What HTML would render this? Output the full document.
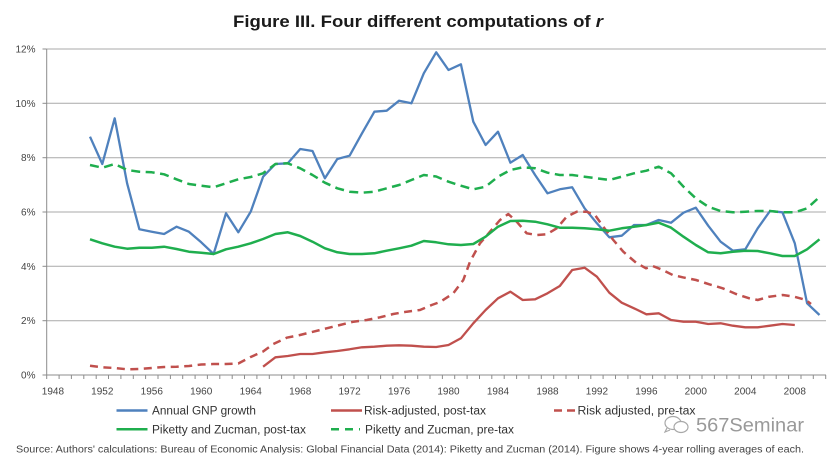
<!DOCTYPE html>
<html>
<head>
<meta charset="utf-8">
<style>
  html,body{margin:0;padding:0;background:#fff;}
  svg{display:block;}
  text{font-family:"Liberation Sans",sans-serif;}
</style>
</head>
<body>
<svg width="834" height="469" viewBox="0 0 834 469" xmlns="http://www.w3.org/2000/svg">
  <rect x="0" y="0" width="834" height="469" fill="#ffffff"/>

  <!-- Title -->
  <text x="418" y="27" text-anchor="middle" font-size="17" font-weight="bold" fill="#1a1a1a" textLength="370" lengthAdjust="spacingAndGlyphs">Figure III.  Four different computations of <tspan font-style="italic">r</tspan></text>

  <!-- Gridlines -->
  <g stroke="#a9a9a9" stroke-width="1">
    <line x1="46.7" y1="49" x2="826" y2="49"/>
    <line x1="46.7" y1="103.3" x2="826" y2="103.3"/>
    <line x1="46.7" y1="157.7" x2="826" y2="157.7"/>
    <line x1="46.7" y1="212" x2="826" y2="212"/>
    <line x1="46.7" y1="266.3" x2="826" y2="266.3"/>
    <line x1="46.7" y1="320.7" x2="826" y2="320.7"/>
  </g>

  <!-- Axes -->
  <g stroke="#8c8c8c" stroke-width="1">
    <line x1="46.7" y1="49" x2="46.7" y2="375"/>
    <line x1="46.7" y1="375" x2="826" y2="375"/>
    <line x1="42.5" y1="49" x2="46.7" y2="49"/>
    <line x1="42.5" y1="103.3" x2="46.7" y2="103.3"/>
    <line x1="42.5" y1="157.7" x2="46.7" y2="157.7"/>
    <line x1="42.5" y1="212" x2="46.7" y2="212"/>
    <line x1="42.5" y1="266.3" x2="46.7" y2="266.3"/>
    <line x1="42.5" y1="320.7" x2="46.7" y2="320.7"/>
    <line x1="42.5" y1="375" x2="46.7" y2="375"/>
  </g>
  <!-- x ticks -->
  <g stroke="#8c8c8c" stroke-width="1" id="xt">
    <path d="M46.7 375v4 M59.1 375v4 M71.4 375v4 M83.8 375v4 M96.2 375v4 M108.5 375v4 M120.9 375v4 M133.3 375v4 M145.6 375v4 M158.0 375v4 M170.4 375v4 M182.7 375v4 M195.1 375v4 M207.4 375v4 M219.8 375v4 M232.2 375v4 M244.5 375v4 M256.9 375v4 M269.3 375v4 M281.6 375v4 M294.0 375v4 M306.4 375v4 M318.7 375v4 M331.1 375v4 M343.5 375v4 M355.8 375v4 M368.2 375v4 M380.6 375v4 M392.9 375v4 M405.3 375v4 M417.7 375v4 M430.0 375v4 M442.4 375v4 M454.7 375v4 M467.1 375v4 M479.5 375v4 M491.8 375v4 M504.2 375v4 M516.6 375v4 M528.9 375v4 M541.3 375v4 M553.7 375v4 M566.0 375v4 M578.4 375v4 M590.8 375v4 M603.1 375v4 M615.5 375v4 M627.9 375v4 M640.2 375v4 M652.6 375v4 M665.0 375v4 M677.3 375v4 M689.7 375v4 M702.0 375v4 M714.4 375v4 M726.8 375v4 M739.1 375v4 M751.5 375v4 M763.9 375v4 M776.2 375v4 M788.6 375v4 M801.0 375v4 M813.3 375v4 M825.7 375v4" fill="none"/>
  </g>

  <!-- Y labels -->
  <g font-size="10" fill="#444" text-anchor="end">
    <text x="35.5" y="52.5">12%</text>
    <text x="35.5" y="106.8">10%</text>
    <text x="35.5" y="161.2">8%</text>
    <text x="35.5" y="215.5">6%</text>
    <text x="35.5" y="269.8">4%</text>
    <text x="35.5" y="324.2">2%</text>
    <text x="35.5" y="378.5">0%</text>
  </g>

  <!-- X labels -->
  <g font-size="10" fill="#444" text-anchor="middle">
    <text x="52.9" y="394.5">1948</text>
    <text x="102.3" y="394.5">1952</text>
    <text x="151.8" y="394.5">1956</text>
    <text x="201.2" y="394.5">1960</text>
    <text x="250.7" y="394.5">1964</text>
    <text x="300.2" y="394.5">1968</text>
    <text x="349.6" y="394.5">1972</text>
    <text x="399.1" y="394.5">1976</text>
    <text x="448.5" y="394.5">1980</text>
    <text x="498.0" y="394.5">1984</text>
    <text x="547.5" y="394.5">1988</text>
    <text x="596.9" y="394.5">1992</text>
    <text x="646.4" y="394.5">1996</text>
    <text x="695.8" y="394.5">2000</text>
    <text x="745.3" y="394.5">2004</text>
    <text x="794.8" y="394.5">2008</text>
  </g>

  <!-- Series -->
  <g fill="none" stroke-linejoin="round" stroke-linecap="butt">
    <!-- Annual GNP growth -->
    <polyline stroke="#4F81BD" stroke-width="2.3" points="90,136.7 102.3,164 114.7,118.3 127.1,183.3 139.4,229.3 151.8,231.7 164.1,234 176.5,226.7 188.9,231.7 201.2,242.3 213.6,254 226,213.3 238.3,232.3 250.7,211.7 263.1,176.7 275.4,164 287.8,163.3 300.2,149 312.5,151 324.9,178.3 337.3,159 349.6,155.7 362,133.3 374.4,111.7 386.7,110.7 399.1,100.7 411.4,103.3 423.8,73.3 436.2,52.3 448.5,70 460.9,64.3 473.3,121.7 485.6,145 498,131.7 510.4,162.7 522.7,155 535.1,175 547.5,193.3 559.8,189.3 572.2,187.3 584.6,208.3 596.9,223.3 609.3,237.3 621.7,235.7 634,225 646.4,225 658.7,220 671.1,222.7 683.5,212.7 695.8,207.7 708.2,225.7 720.6,241.7 732.9,250.7 745.3,249.3 757.7,228.3 770,211 782.4,212.3 794.8,243.3 807.1,303.3 819.5,315"/>
    <!-- Risk-adjusted, post-tax -->
    <polyline stroke="#C0504D" stroke-width="2.3" points="263.1,366.7 275.4,357.3 287.8,356 300.2,354 312.5,354 324.9,352.3 337.3,351 349.6,349.3 362,347.3 374.4,346.7 386.7,345.7 399.1,345.3 411.4,345.7 423.8,346.7 436.2,347 448.5,345 460.9,338.3 473.3,323.3 485.6,310 498,298.3 510.4,291.7 522.7,300 535.1,299.3 547.5,293.3 559.8,286 572.2,270 584.6,267.7 596.9,276.7 609.3,292.7 621.7,302.7 634,308.3 646.4,314.3 658.7,313.3 671.1,320 683.5,321.7 695.8,321.7 708.2,324 720.6,323.3 732.9,325.7 745.3,327.3 757.7,327.3 770,325.7 782.4,324 794.8,325"/>
    <!-- Risk adjusted, pre-tax -->
    <polyline stroke="#C0504D" stroke-width="2.5" stroke-dasharray="8,5.5" points="90,365.7 102.3,367.3 114.7,368 127.1,369.3 139.4,369 151.8,368 164.1,367 176.5,366.7 188.9,366 201.2,364.5 213.6,364 226,364 238.3,363.5 250.7,357 263.1,351.5 273.3,344 286.7,337.7 300,335 313.3,331.7 326.7,328.3 340,325 353.3,321.7 366.7,320 380,317.3 393.3,314 406.7,311.7 420,310 431.7,305 440,302 453.3,293.3 463.3,280 470,261.7 480,243.3 490,231.7 500,220 508.3,214 516.7,221.7 526.7,233.3 536.7,235 546.7,234.3 556.7,228.3 566.7,216.7 576.7,211.7 586.7,211.7 595,215 603.3,226.7 613.3,240 623.3,251.7 636,262.7 646,268.3 652.7,266 662.7,270 672.7,275 682.7,277.3 696,280 709.3,284.3 722.7,288.3 736,294 749.3,298.3 757.7,300 769.3,296.7 782.7,295 794.3,296.7 806,300 811,304"/>
    <!-- Piketty and Zucman, post-tax -->
    <polyline stroke="#1FAE4E" stroke-width="2.5" points="90,239.3 102.3,243.3 114.7,246.7 127.1,248.7 139.4,247.7 151.8,247.7 164.1,246.7 176.5,249 188.9,251.7 201.2,252.7 213.6,254 226,249.3 238.3,246.7 250.7,243.3 263.1,239 275.4,234 287.8,232.3 300.2,236 312.5,241.7 324.9,248.3 337.3,252.3 349.6,254 362,254 374.4,253.3 386.7,250.7 399.1,248.3 411.4,245.7 423.8,241 436.2,242.3 448.5,244.3 460.9,245 473.3,244 485.6,236.7 498,226.7 510.4,221 522.7,220.7 535.1,221.7 547.5,224.3 559.8,227.7 572.2,227.7 584.6,228.3 596.9,229.3 609.3,230.7 621.7,228.3 634,226.7 646.4,225 658.7,222.7 671.1,227.7 683.5,236.7 695.8,245 708.2,252.3 720.6,253.3 732.9,251.7 745.3,250.7 757.7,251 770,253.3 782.4,256 794.8,256 807.1,249.3 819.5,239.3"/>
    <!-- Piketty and Zucman, pre-tax -->
    <polyline stroke="#1FAE4E" stroke-width="2.5" stroke-dasharray="9,5.5" points="90,165 102.3,167.7 114.7,164 127.1,170 139.4,171.7 151.8,172.3 164.1,174.3 176.5,179.3 188.9,184 201.2,185.7 213.6,187.3 226,183.3 238.3,179.3 250.7,177 263.1,173.3 275.4,164 287.8,163.3 300.2,168.3 312.5,175 324.9,182.7 337.3,188.3 349.6,191.7 362,192.7 374.4,191.7 386.7,188.3 399.1,185 411.4,180 423.8,175 436.2,176.5 448.5,181.7 460.9,185.7 473.3,189.3 485.6,186.7 498,176.7 510.4,170 522.7,167.3 535.1,168.3 547.5,172.7 559.8,175 572.2,175 584.6,176.7 596.9,178.3 609.3,180 621.7,176.7 634,173.3 646.4,170.7 658.7,166.7 671.1,173.3 683.5,186.7 695.8,198.3 708.2,206.7 720.6,211 732.9,212.3 745.3,211.7 757.7,211 770,211 782.4,212.3 794.8,212.3 807.1,208.3 819.5,197"/>
  </g>

  <!-- Legend -->
  <g stroke-width="2.5" fill="none">
    <line x1="116.5" y1="410.5" x2="147.5" y2="410.5" stroke="#4F81BD"/>
    <line x1="331" y1="410.5" x2="362" y2="410.5" stroke="#C0504D"/>
    <line x1="554" y1="410.5" x2="575" y2="410.5" stroke="#C0504D" stroke-dasharray="8,5"/>
    <line x1="116.5" y1="429.3" x2="147.5" y2="429.3" stroke="#1FAE4E"/>
    <line x1="331" y1="429.3" x2="360" y2="429.3" stroke="#1FAE4E" stroke-dasharray="8,6"/>
  </g>
  <g font-size="11.5" fill="#333">
    <text x="152" y="414.5" textLength="104" lengthAdjust="spacingAndGlyphs">Annual GNP growth</text>
    <text x="364" y="414.5" textLength="122" lengthAdjust="spacingAndGlyphs">Risk-adjusted, post-tax</text>
    <text x="577.5" y="414.5" textLength="118" lengthAdjust="spacingAndGlyphs">Risk adjusted, pre-tax</text>
    <text x="152" y="433.3" textLength="154" lengthAdjust="spacingAndGlyphs">Piketty and Zucman, post-tax</text>
    <text x="365" y="433.3" textLength="149" lengthAdjust="spacingAndGlyphs">Piketty and Zucman, pre-tax</text>
  </g>

  <!-- Watermark -->
  <g fill="none" stroke="#9a9a9a" stroke-width="1.2" opacity="0.85">
    <ellipse cx="673" cy="423" rx="8" ry="6.5"/>
    <ellipse cx="681" cy="427" rx="7" ry="5.5" fill="#fff"/>
    <path d="M667 428 l-2 4 l5 -2"/>
  </g>
  <text x="696" y="431.5" font-size="19" fill="#8f8f8f" textLength="108" lengthAdjust="spacingAndGlyphs" opacity="0.9">567Seminar</text>

  <!-- Source -->
  <text x="16" y="452.5" font-size="10" fill="#444" textLength="788" lengthAdjust="spacingAndGlyphs">Source: Authors' calculations: Bureau of Economic Analysis: Global Financial Data (2014):  Piketty and Zucman (2014). Figure shows 4-year rolling averages of  each.</text>
</svg>
</body>
</html>
